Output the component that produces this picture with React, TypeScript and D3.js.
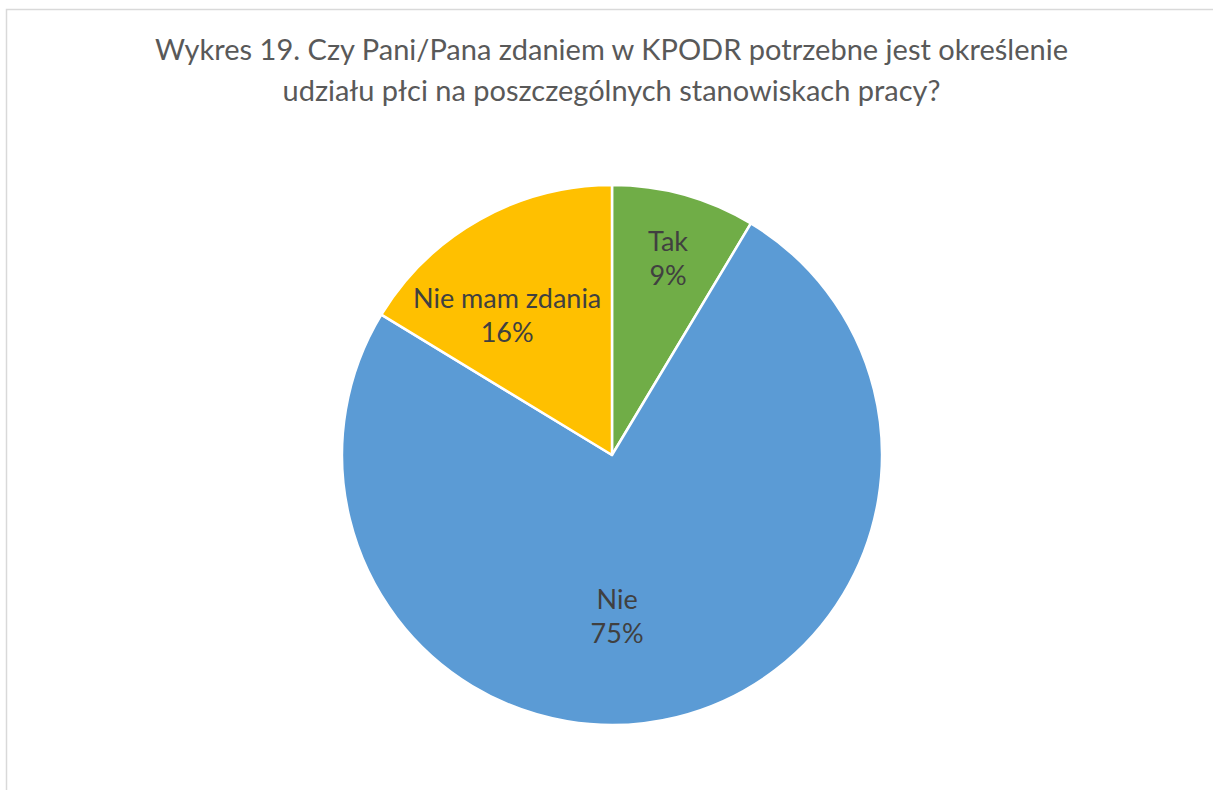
import React from "react";
import * as d3 from "d3";

const categories = ["Tak", "Nie", "Nie mam zdania"];
const values = [8.6, 75.1, 16.3];
const colors = ["#70AD47", "#5B9BD5", "#FFC000"];
const titleLines = [
  "Wykres 19. Czy Pani/Pana zdaniem w KPODR potrzebne jest określenie",
  "udziału płci na poszczególnych stanowiskach pracy?",
];

const W = 1213;
const H = 790;
const cx = 612;
const cy = 455;
const R = 270;
// label placement (polar around pie center): [angleDeg, radius]
const labelPolar: [number, number][] = [
  [16.7, 195],
  [178.3, 171],
  [-38.9, 167],
];
const titleWidths = [913, 658];

export default function App() {
  const total = d3.sum(values);
  const pie = d3
    .pie<number>()
    .sort(null)
    .value((d) => d)(values);
  const arc = d3.arc<d3.PieArcDatum<number>>().innerRadius(0).outerRadius(R);
  const font = "Lato, 'Open Sans', 'Liberation Sans', sans-serif";
  return (
    <svg
      width={W}
      height={H}
      style={{ position: "absolute", left: 0, top: 0, background: "#fff" }}
    >
      <rect x={6.5} y={9.5} width={W + 20} height={H + 20} fill="#fff" stroke="#d9d9d9" strokeWidth={1.5} />
      {titleLines.map((t, i) => (
        <text
          key={i}
          x={611.5}
          y={60 + i * 41}
          textAnchor="middle"
          fontFamily={font}
          fontSize={28}
          fill="#595959"
          textLength={titleWidths[i]}
          lengthAdjust="spacingAndGlyphs"
        >
          {t}
        </text>
      ))}
      <g transform={`translate(${cx},${cy})`}>
        {pie.map((p, i) => (
          <path key={i} d={arc(p) || ""} fill={colors[i]} stroke="#fff" strokeWidth={2.5} strokeLinejoin="round" />
        ))}
        {pie.map((p, i) => {
          const [a, r] = labelPolar[i];
          const rad = (a * Math.PI) / 180;
          const x = r * Math.sin(rad);
          const y = -r * Math.cos(rad);
          const pct = Math.round((p.data / total) * 100) + "%";
          return (
            <text key={"l" + i} x={x} y={y} textAnchor="middle" fontFamily={font} fontSize={27} fill="#404040">
              <tspan x={x} dy={-17}>{categories[i]}</tspan>
              <tspan x={x} dy={34}>{pct}</tspan>
            </text>
          );
        })}
      </g>
    </svg>
  );
}
